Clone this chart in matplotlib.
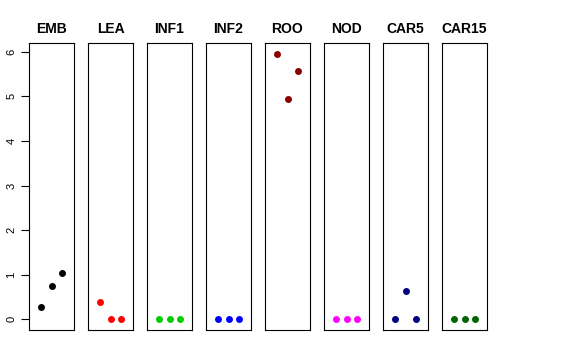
import matplotlib.pyplot as plt

groups = ["EMB", "LEA", "INF1", "INF2", "ROO", "NOD", "CAR5", "CAR15"]
colors = ["black", "red", "#00CD00", "blue", "#8B0000", "magenta", "#000080", "#006400"]
values = [
    [0.28, 0.75, 1.04],
    [0.40, 0.0, 0.0],
    [0.0, 0.0, 0.0],
    [0.0, 0.0, 0.0],
    [5.96, 4.95, 5.57],
    [0.0, 0.0, 0.0],
    [0.0, 0.64, 0.0],
    [0.0, 0.0, 0.0],
]
yticks = [0, 1, 2, 3, 4, 5, 6]

plt.rcParams['font.family'] = ['Liberation Sans', 'DejaVu Sans']
W, H = 576, 360
fig = plt.figure(figsize=(W / 100, H / 100), dpi=100)

lefts = [29, 88, 147, 206, 265, 324, 383, 442]
top, bottom, width = 43, 330, 45
ymax = max(max(v) for v in values)
pad = ymax * 0.04

for i, (name, col, vals) in enumerate(zip(groups, colors, values)):
    ax = fig.add_axes([lefts[i] / W, 1 - bottom / H, width / W, (bottom - top) / H])
    ax.plot([1, 2, 3], vals, 'o', color=col, markersize=5, markeredgewidth=0)
    ax.set_xlim(-0.15, 4.15)
    ax.set_ylim(-pad, ymax + pad)
    ax.set_xticks([])
    ax.set_title(name, fontsize=10, fontweight='bold', pad=7)
    for s in ax.spines.values():
        s.set_linewidth(0.8)
    if i == 0:
        ax.set_yticks(yticks)
        ax.tick_params(axis='y', length=6, width=0.8, labelsize=8, pad=3)
        for lab in ax.get_yticklabels():
            lab.set_rotation(90)
            lab.set_va('center')
    else:
        ax.set_yticks([])

fig.savefig("out.png", dpi=100)
